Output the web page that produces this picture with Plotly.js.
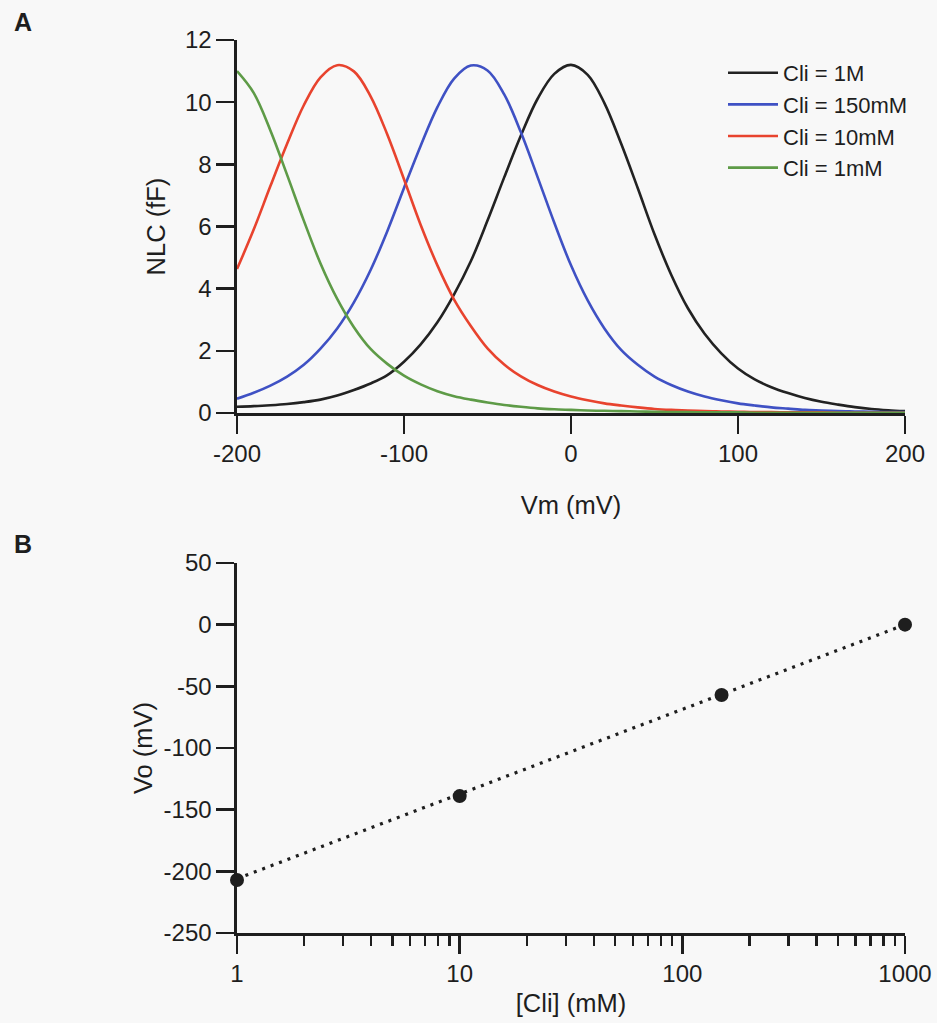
<!DOCTYPE html>
<html><head><meta charset="utf-8">
<script src="https://cdn.plot.ly/plotly-3.0.1.min.js"></script>
<style>html,body{margin:0;padding:0;background:#f8f8f8}#chart{width:937px;height:1023px}</style>
</head><body><div id="chart"></div>
<script>
// Panel A: NLC vs membrane voltage
const vm = [-200,-190,-180,-170,-160,-150,-140,-130,-120,-110,-100,-90,-80,-70,-60,-50,-40,-30,-20,-10,0,10,20,30,40,50,60,70,80,90,100,110,120,130,140,150,160,170,180,190,200];
const nlc1M = [0.20,0.22,0.25,0.29,0.35,0.43,0.56,0.74,0.95,1.22,1.65,2.21,2.92,3.82,4.88,6.19,7.58,8.93,10.11,10.91,11.2,10.88,9.97,8.67,7.23,5.75,4.45,3.37,2.55,1.92,1.43,1.08,0.83,0.64,0.48,0.36,0.27,0.19,0.13,0.09,0.06];
const nlc150mM = [0.46,0.65,0.88,1.17,1.55,2.07,2.72,3.56,4.60,5.85,7.24,8.60,9.84,10.76,11.18,11.02,10.25,9.03,7.59,6.12,4.75,3.62,2.72,2.03,1.55,1.17,0.90,0.69,0.53,0.41,0.31,0.24,0.18,0.14,0.10,0.08,0.06,0.05,0.04,0.03,0.03];
const nlc10mM = [4.63,5.90,7.30,8.66,9.90,10.80,11.19,10.99,10.19,8.96,7.52,6.05,4.75,3.65,2.80,2.08,1.56,1.18,0.90,0.69,0.53,0.41,0.31,0.24,0.18,0.13,0.10,0.08,0.06,0.05,0.04,0.03,0.03,0.02,0.02,0.02,0.01,0.01,0.01,0.01,0.01];
const nlc1mM = [11.0,10.3,9.09,7.66,6.19,4.81,3.67,2.76,2.06,1.58,1.20,0.92,0.70,0.54,0.43,0.34,0.26,0.20,0.15,0.12,0.10,0.08,0.07,0.06,0.05,0.04,0.03,0.03,0.02,0.02,0.02,0.01,0.01,0.01,0.01,0.01,0.01,0.01,0.01,0.01,0.01];
const seriesNames = ['Cli = 1M','Cli = 150mM','Cli = 10mM','Cli = 1mM'];
const seriesColors = ['#222222','#3f51c4','#e8432e','#5e9b47'];
const vmTicks = [-200,-100,0,100,200];
const vmTickText = ['-200','-100','0','100','200'];
const nlcTicks = [0,2,4,6,8,10,12];

// Panel B: Vo vs intracellular chloride
const cli = [1, 10, 150, 1000];
const vo = [-207, -139, -57, 0];
const fitCli = [1, 1000];
const fitVo = [-206, 0];
const cliTicks = [1, 10, 100, 1000];
const cliTickText = ['1','10','100','1000'];
const voTicks = [-250,-200,-150,-100,-50,0,50];
const voTickText = ['-250','-200','-150','-100','-50','0','50'];

const W = 937, H = 1023;
const px = v => v / W, py = v => 1 - v / H;
const FONT = 'Liberation Sans, Arial, sans-serif';
const INK = '#1e1e1e';
const TICK = 24, TITLE = 25.5;

const curves = [nlc1M, nlc150mM, nlc10mM, nlc1mM];
const traces = curves.map((ys, i) => ({
  x: vm, y: ys, type: 'scatter', mode: 'lines', name: seriesNames[i],
  line: {color: seriesColors[i], width: 2.6, shape: 'spline', smoothing: 1},
  xaxis: 'x', yaxis: 'y'
}));
traces.push({
  x: fitCli, y: fitVo, type: 'scatter', mode: 'lines', showlegend: false,
  line: {color: INK, width: 3.2, dash: '3px,6px'}, xaxis: 'x2', yaxis: 'y2'
});
traces.push({
  x: cli, y: vo, type: 'scatter', mode: 'markers', showlegend: false,
  marker: {color: INK, size: 14}, cliponaxis: false, xaxis: 'x2', yaxis: 'y2'
});

const axBase = {
  showline: true, linecolor: INK, linewidth: 2.6, ticks: 'outside', ticklen: 18,
  tickwidth: 2.6, tickcolor: INK, showgrid: false, zeroline: false,
  tickfont: {family: FONT, size: TICK, color: INK}, automargin: false
};
const ttl = (text, standoff) => ({text, standoff, font: {family: FONT, size: TITLE, color: INK}});
const layout = {
  width: W, height: H, margin: {l: 0, r: 0, t: 0, b: 0},
  paper_bgcolor: '#f8f8f8', plot_bgcolor: 'rgba(0,0,0,0)',
  font: {family: FONT, color: INK},
  showlegend: true,
  legend: {x: px(723), y: py(52), xanchor: 'left', yanchor: 'top', itemwidth: 50,
    font: {family: FONT, size: 22, color: INK}, bgcolor: 'rgba(0,0,0,0)', tracegroupgap: 0},
  xaxis: Object.assign({}, axBase, {domain: [px(237), px(905)], range: [-200, 200],
    tickvals: vmTicks, ticktext: vmTickText, anchor: 'y', title: ttl('Vm (mV)', 30)}),
  yaxis: Object.assign({}, axBase, {domain: [py(413), py(40)], range: [0, 12],
    tickvals: nlcTicks, anchor: 'x', title: ttl('NLC (fF)', 12)}),
  xaxis2: Object.assign({}, axBase, {domain: [px(237), px(905)], type: 'log', range: [0, 3],
    tickvals: cliTicks, ticktext: cliTickText, anchor: 'y2',
    minor: {ticks: 'outside', ticklen: 10, tickwidth: 2.4, tickcolor: INK, dtick: 'D1', showgrid: false},
    title: ttl('[Cli] (mM)', 8)}),
  yaxis2: Object.assign({}, axBase, {domain: [py(933), py(563)], range: [-250, 50],
    tickvals: voTicks, ticktext: voTickText, anchor: 'x2', title: ttl('Vo (mV)', 4)}),
  annotations: [
    {text: '<b>A</b>', xref: 'paper', yref: 'paper', x: px(23), y: py(22), xanchor: 'center', yanchor: 'middle',
      showarrow: false, font: {family: FONT, size: 25, color: INK}},
    {text: '<b>B</b>', xref: 'paper', yref: 'paper', x: px(23), y: py(544), xanchor: 'center', yanchor: 'middle',
      showarrow: false, font: {family: FONT, size: 25, color: INK}}
  ]
};
Plotly.newPlot('chart', traces, layout, {staticPlot: true, displayModeBar: false});
</script></body></html>
